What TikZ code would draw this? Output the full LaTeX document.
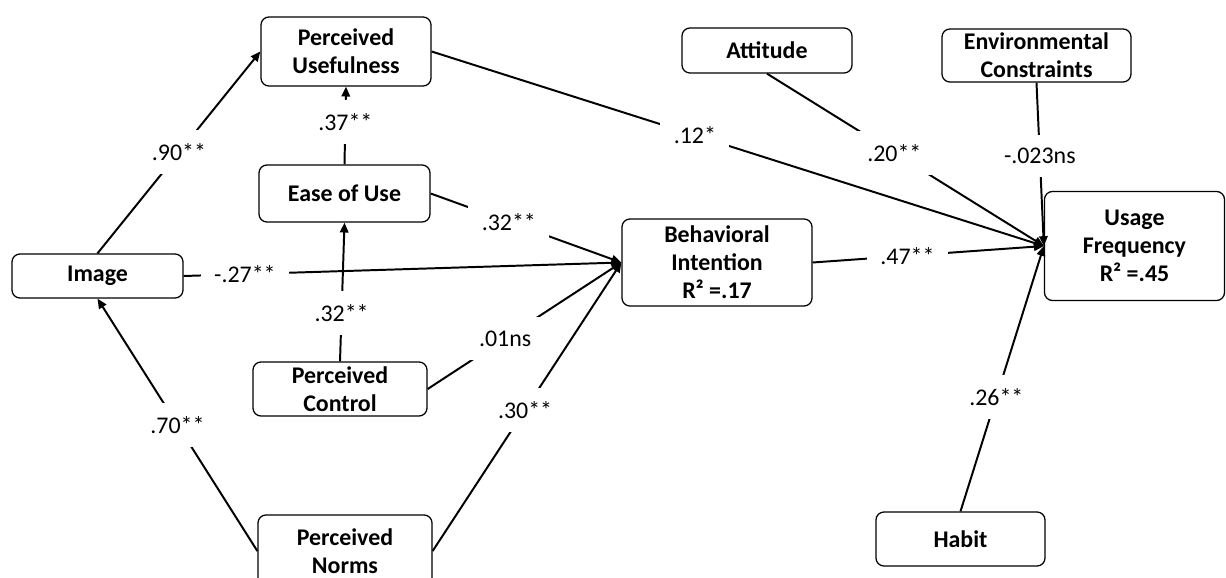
\documentclass[tikz,border=0pt]{standalone}
\usepackage{fontspec}
\setmainfont{Carlito}
\usepackage{tikz}
\usetikzlibrary{positioning,arrows.meta}

\begin{document}
\begin{tikzpicture}[
        x=0.025cm, y=-0.025cm,
        construct/.style={
            % The shape
            rectangle,
            rounded corners = 0.2cm,
            % The border
            line width = 0.9pt,
            draw = black,
            % Font
            font = \fontsize{17}{20}\selectfont\bfseries,
            align = center,
            inner xsep = 2pt,
            inner ysep = 0pt
        },
        coef/.style={
            % The gap in the line
            fill = white,
            inner sep = 9.5pt,
            % Font
            font = \fontsize{17}{20}\selectfont
        },
        effect/.style={
            % The line
            line width = 1.4pt,
            % The tip
            -{Triangle[length=7pt,width=6pt]}
        },
    ]
        \useasboundingbox (0,0) rectangle (1226,578);
        \clip (0,0) rectangle (1226,578);

        \node (pu) [construct,minimum width=4.25cm,minimum height=1.725cm] at (346,51.5) {Perceived\\ Usefulness};
        \node (eou) [construct,minimum width=4.275cm,minimum height=1.425cm] at (344.5,193.5) {Ease of Use};
        \node (image) [construct,minimum width=4.275cm,minimum height=1.1cm] at (97.5,276) {Image};
        \node (pc) [construct,minimum width=4.35cm,minimum height=1.35cm] at (340,389) {Perceived\\ Control};
        \node (pn) [construct,minimum width=4.35cm,minimum height=1.8cm] at (345,551) {Perceived\\ Norms};

        \node (bi) [construct,minimum width=4.75cm,minimum height=2.175cm] at (717,262.5) {Behavioral\\ Intention\\ R² =.17};

        \node (att) [construct,minimum width=4.25cm,minimum height=1.125cm] at (767,50.5) {Attitude};
        \node (ec) [construct,minimum width=4.725cm,minimum height=1.325cm] at (1036.5,55.5) {Environmental\\ Constraints};
        \node (uf) [construct,minimum width=4.5cm,minimum height=2.725cm] at (1134.5,246) {Usage\\ Frequency\\ R² =.45};
        \node (habit) [construct,minimum width=4.225cm,minimum height=1.35cm] at (960.5,539) {Habit};

        % paths into usefulness, ease of use and image
        \path (image.north) edge[effect] node[coef,pos=0.5] {.90**} (pu.west);
        \path (eou.north) edge[effect] node[coef,pos=0.55] {.37**} (pu.south);
        \path (pc.north) edge[effect] node[coef,pos=0.35] {.32**} (eou.south);
        \path (pn.west) edge[effect] node[coef,pos=0.5] {.70**} (image.south);

        % paths into intention
        \path (image.east) edge[effect] node[coef,pos=0.14] {-.27**} (bi.west);
        \path (eou.east) edge[effect] node[coef,pos=0.41] {.32**} (bi.west);
        \path (pc.east) edge[effect] node[coef,pos=0.4] {.01ns} (bi.west);
        \path (pn.east) edge[effect] node[coef,pos=0.49] {.30**} (bi.west);

        % paths into usage frequency
        \path (pu.east) edge[effect] node[coef,pos=0.43] {.12*} (uf.west);
        \path (att.south) edge[effect] node[coef,pos=0.46] {.20**} (uf.west);
        \path (ec.south) edge[effect] node[coef,pos=0.45] {-.023ns} (uf.west);
        \path (bi.east) edge[effect] node[coef,pos=0.41] {.47**} (uf.west);
        \path (habit.north) edge[effect] node[coef,pos=0.43] {.26**} (uf.west);

    \end{tikzpicture}
\end{document}
